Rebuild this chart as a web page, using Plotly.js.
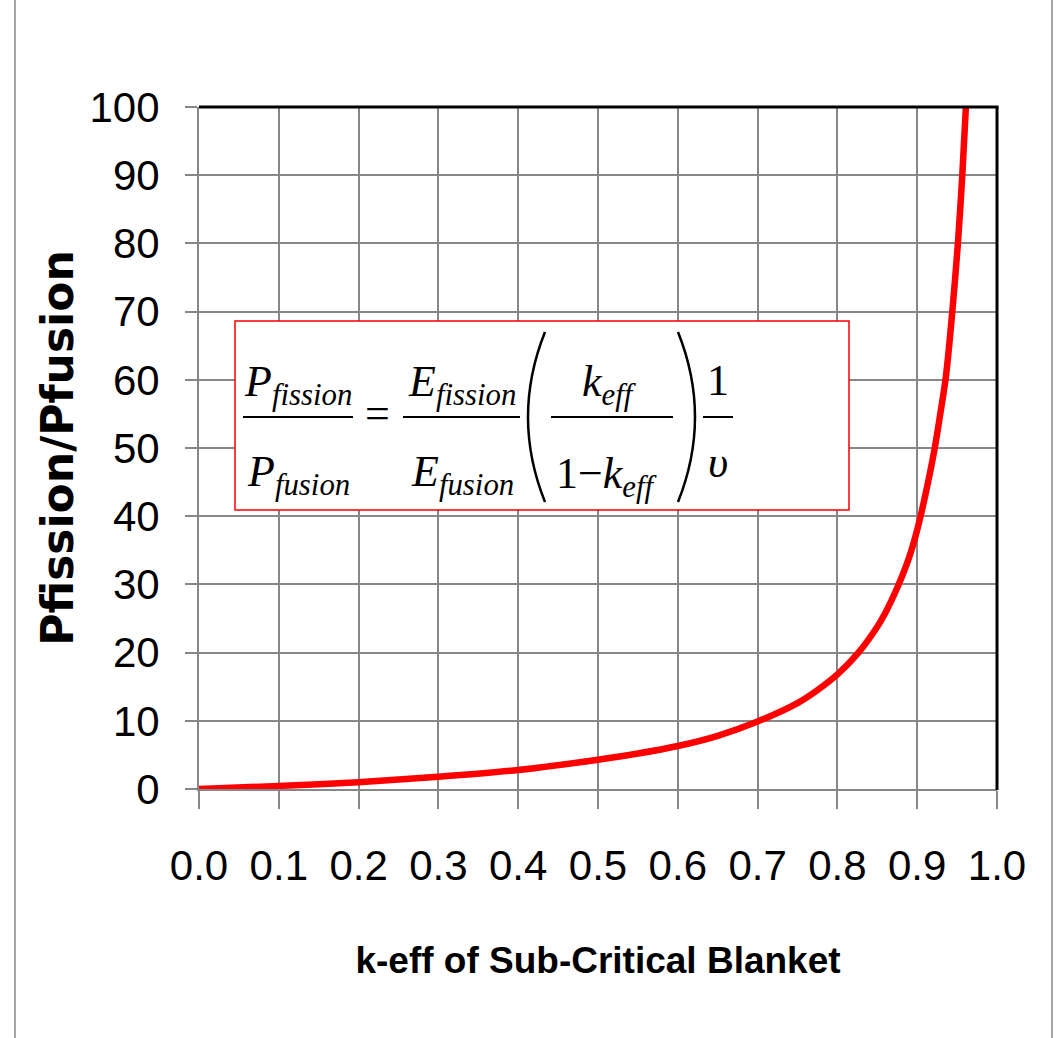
<!DOCTYPE html>
<html>
<head>
<meta charset="utf-8">
<script src="https://cdn.plot.ly/plotly-3.0.1.min.js"></script>
<style>
  html, body { margin: 0; padding: 0; background: #ffffff; }
  #chart { width: 1056px; height: 1038px; }
</style>
</head>
<body>
<div id="chart"></div>
<script>
// ---- Data ----
const kEff = [0.0, 0.1, 0.2, 0.3, 0.4, 0.5, 0.55, 0.6, 0.65, 0.7, 0.75, 0.775, 0.8, 0.825, 0.85, 0.86, 0.875, 0.89, 0.9, 0.91, 0.922, 0.93, 0.936, 0.944, 0.951, 0.9565, 0.961];
const powerRatio = [0.0, 0.45, 1.0, 1.8, 2.8, 4.3, 5.2, 6.3, 7.8, 9.9, 12.6, 14.5, 16.8, 19.8, 23.8, 25.8, 29.5, 34.0, 38.0, 43.0, 50.0, 55.8, 60.5, 70.0, 80.0, 90.0, 100.0];
const xTickVals = [0.0, 0.1, 0.2, 0.3, 0.4, 0.5, 0.6, 0.7, 0.8, 0.9, 1.0];
const xTickText = ['0.0', '0.1', '0.2', '0.3', '0.4', '0.5', '0.6', '0.7', '0.8', '0.9', '1.0'];
const yTickVals = [0, 10, 20, 30, 40, 50, 60, 70, 80, 90, 100];
const xTitle = 'k-eff of Sub-Critical Blanket';
const yTitle = 'Pfission/Pfusion';

// ---- Layout helpers (pixel positions of the plot frame) ----
const L = 199, R = 997, T = 107, B = 789;
const px = v => (v - L) / (R - L);
const py = v => (B - v) / (B - T);

const tickFont = { family: '"Liberation Sans", Arial, sans-serif', size: 42, color: '#000000' };
const eqFont = { family: '"Liberation Serif", "DejaVu Serif", serif', size: 44, color: '#000000' };

function eqText(text, cx, cy) {
  return {
    xref: 'paper', yref: 'paper', x: px(cx), y: py(cy),
    xanchor: 'center', yanchor: 'middle', showarrow: false,
    text: text, font: eqFont
  };
}
function hLine(x1, x2, y, color, w) {
  return { type: 'line', xref: 'paper', yref: 'paper', layer: 'above',
    x0: px(x1), x1: px(x2), y0: py(y), y1: py(y), line: { color: color, width: w } };
}
function vLine(x, y1, y2, color, w) {
  return { type: 'line', xref: 'paper', yref: 'paper', layer: 'above',
    x0: px(x), x1: px(x), y0: py(y1), y1: py(y2), line: { color: color, width: w } };
}
function paren(xEnd, xCtrl, yTop, yBot) {
  const ym = (yTop + yBot) / 2;
  return { type: 'path', xref: 'paper', yref: 'paper', layer: 'above',
    path: `M ${px(xEnd)},${py(yTop)} Q ${px(xCtrl)},${py(ym)} ${px(xEnd)},${py(yBot)}`,
    line: { color: '#000000', width: 2.5 } };
}

const trace = {
  x: kEff, y: powerRatio, type: 'scatter', mode: 'lines',
  line: { color: '#FF0000', width: 6.5, shape: 'spline', smoothing: 0.8 },
  hoverinfo: 'x+y', showlegend: false
};

const shapes = [
  // outer slide frame lines
  vLine(15, -10, 1050, '#A6A6A6', 2),
  vLine(1052, -10, 1050, '#A6A6A6', 2),
  // black top and right plot border
  hLine(L, R + 1.5, T, '#000000', 3),
  vLine(R, T, B + 1, '#000000', 3),
  // equation box
  { type: 'rect', xref: 'paper', yref: 'paper', layer: 'above',
    x0: px(235), x1: px(849), y0: py(321), y1: py(510),
    fillcolor: '#FFFFFF', line: { color: '#FF0000', width: 1.5 } },
  // fraction bars
  hLine(243, 353, 417, '#000000', 2),
  hLine(403, 520, 417, '#000000', 2),
  hLine(551, 673, 417, '#000000', 2),
  hLine(703, 733, 417, '#000000', 2),
  // parentheses
  paren(545, 511, 332, 502),
  paren(678, 712, 332, 502)
];

const annotations = [
  eqText('<i>P<sub>fission</sub></i>', 298, 384),
  eqText('<i>P<sub>fusion</sub></i>', 298, 474),
  eqText('=', 377, 413),
  eqText('<i>E<sub>fission</sub></i>', 462, 384),
  eqText('<i>E<sub>fusion</sub></i>', 462, 474),
  eqText('<i>k<sub>eff</sub></i>', 609, 384),
  eqText('1−<i>k<sub>eff</sub></i>', 607, 476),
  eqText('1', 718, 380),
  eqText('<i>υ</i>', 718, 462)
];

const layout = {
  width: 1056, height: 1038,
  margin: { l: L, r: 1056 - R, t: T, b: 1038 - B, pad: 0 },
  paper_bgcolor: '#FFFFFF', plot_bgcolor: '#FFFFFF',
  showlegend: false,
  xaxis: {
    range: [0, 1], tickvals: xTickVals, ticktext: xTickText,
    showgrid: true, gridcolor: '#878787', gridwidth: 2,
    showline: true, linecolor: '#878787', linewidth: 2,
    ticks: 'outside', ticklen: 18, tickwidth: 2, tickcolor: '#878787',
    ticklabelstandoff: 21,
    tickfont: tickFont, zeroline: false, fixedrange: true,
    title: { text: xTitle, standoff: 59,
      font: { family: '"Liberation Sans", Arial, sans-serif', size: 37, color: '#000000', weight: 'bold' } }
  },
  yaxis: {
    range: [0, 100], tickvals: yTickVals,
    showgrid: true, gridcolor: '#878787', gridwidth: 2,
    showline: true, linecolor: '#878787', linewidth: 2,
    ticks: 'outside', ticklen: 12, tickwidth: 2, tickcolor: '#878787',
    ticklabelstandoff: 17,
    tickfont: tickFont, zeroline: false, fixedrange: true,
    title: { text: yTitle, standoff: 2,
      font: { family: '"DejaVu Sans", Verdana, sans-serif', size: 44, color: '#000000', weight: 'bold' } }
  },
  shapes: shapes,
  annotations: annotations
};

Plotly.newPlot('chart', [trace], layout, { displayModeBar: false, staticPlot: true });
</script>
</body>
</html>
